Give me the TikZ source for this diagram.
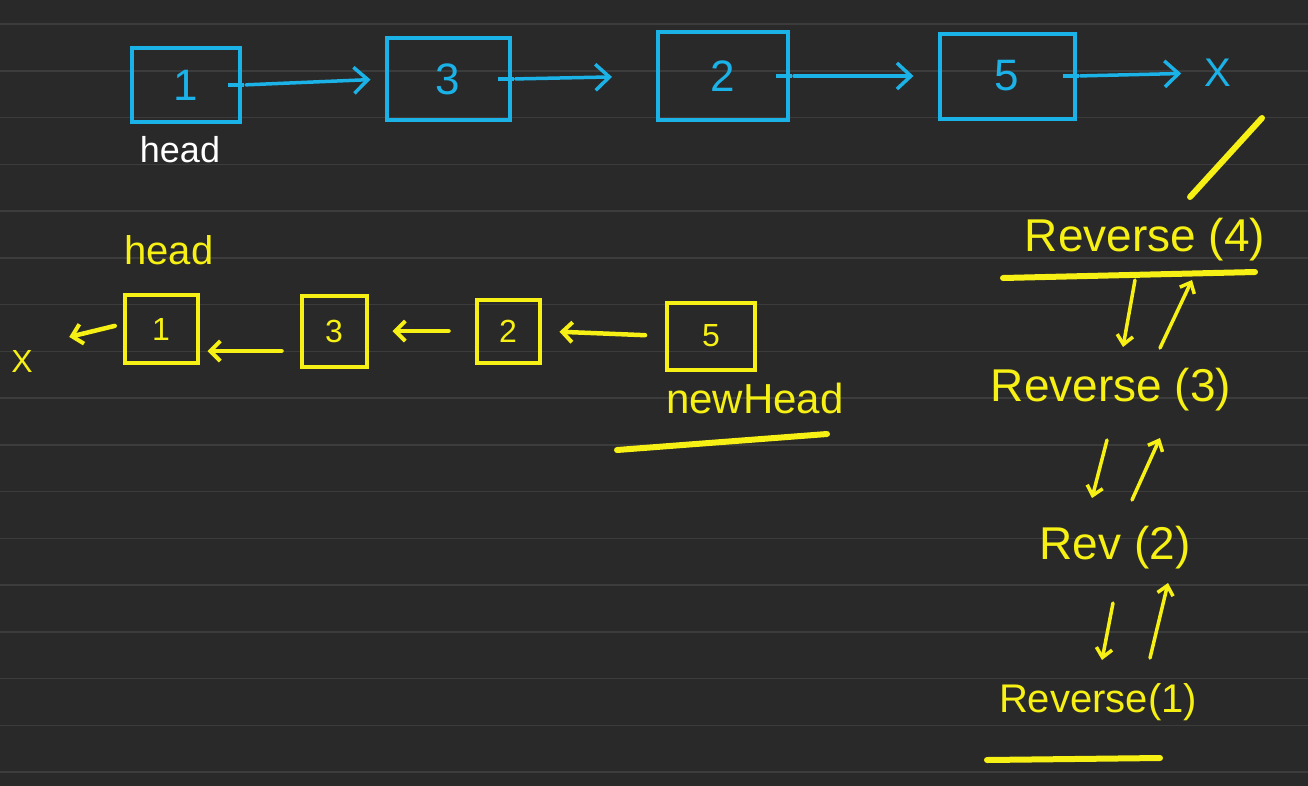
\documentclass[tikz,border=0pt]{standalone}
\usepackage{fontspec}
\setmainfont{Liberation Sans}
\usetikzlibrary{positioning,arrows.meta}

\definecolor{board}{RGB}{41,41,41}
\definecolor{rule}{RGB}{60,60,60}
\definecolor{inkblue}{RGB}{27,178,232}
\definecolor{inkyellow}{RGB}{246,240,20}

\tikzset{
  cell/.style={draw=inkblue,line width=4pt,text=inkblue,inner sep=0pt,
    font=\fontsize{44}{50}\selectfont},
  rcell/.style={draw=inkyellow,line width=4pt,text=inkyellow,inner sep=0pt,
    font=\fontsize{32}{36}\selectfont},
  link/.style={draw=inkblue,line width=3.5pt,line cap=round,
    -{Straight Barb[length=14pt,width=26pt,line width=3.5pt]}},
  rlink/.style={draw=inkyellow,line width=4.5pt,line cap=round,
    -{Straight Barb[length=10pt,width=20pt,line width=4pt]}},
  call/.style={draw=inkyellow,line width=3.5pt,line cap=round,
    -{Straight Barb[length=9pt,width=16pt,line width=3.5pt]}},
  underline/.style={draw=inkyellow,line width=6pt,line cap=round},
  word/.style={text=inkyellow,font=\fontsize{44}{50}\selectfont}
}

\begin{document}
\begin{tikzpicture}[x=1pt,y=-1pt]
\useasboundingbox (0,0) rectangle (1308,785);
\fill[board] (-6,-6) rectangle (1314,791);
\foreach \k in {0,...,16}
  \draw[rule,line width=1.5pt] (-6,24+46.75*\k) -- (1314,24+46.75*\k);

% list before reversing
\node[cell,minimum width=108pt,minimum height=74pt] (c1) at (186,85) {1};
\node[cell,minimum width=123pt,minimum height=82pt] (c3) at (448,79) {3};
\node[cell,minimum width=130pt,minimum height=88pt] (c2) at (723,76) {2};
\node[cell,minimum width=135pt,minimum height=85pt] (c5) at (1007,76) {5};
\node[text=inkblue,font=\fontsize{40}{44}\selectfont] (nil) at (1218,73) {X};
\node[text=white,font=\fontsize{36}{40}\selectfont] (head) at (180,150) {head};

\foreach \n in {c1,c3,c2,c5}
  \draw[inkblue,line width=3.5pt] ([xshift=-14pt]\n.east) -- ([xshift=2pt]\n.east);

\draw[link,shorten <=4pt,shorten >=14pt] (c1.east) -- (c3.west);
\draw[link,shorten <=4pt,shorten >=44pt] (c3.east) -- (c2.west);
\draw[link,shorten <=4pt,shorten >=24pt] (c2.east) -- (c5.west);
\draw[link,shorten <=4pt,shorten >=20pt] (c5.east) -- (nil.west);

% list after reversing
\node[word,font=\fontsize{40}{44}\selectfont] (newhead) at (169,250) {head};
\node[text=inkyellow,font=\fontsize{32}{36}\selectfont] (nilB) at (22,361) {X};
\node[rcell,minimum width=73pt,minimum height=68pt] (b1) at (161,329) {1};
\node[rcell,minimum width=65pt,minimum height=71pt] (b3) at (334,331) {3};
\node[rcell,minimum width=63pt,minimum height=63pt] (b2) at (508,331) {2};
\node[rcell,minimum width=88pt,minimum height=67pt] (b5) at (711,336) {5};
\node[word,font=\fontsize{42}{46}\selectfont] (nh) at (755,398) {newHead};

\draw[rlink,shorten <=8pt,shorten >=34pt] ([yshift=5pt]b1.west) -- ([yshift=16pt]nilB.east);
\draw[rlink,shorten <=18pt,shorten >=8pt] ([yshift=-20pt]b3.west) -- ([yshift=-22pt]b1.east);
\draw[rlink,shorten <=26pt,shorten >=24pt] (b2.west) -- (b3.east);
\draw[rlink,shorten <=20pt,shorten >=18pt] (b5.west) -- (b2.east);
\draw[underline] ([shift={(-138,52)}]nh.center) -- ([shift={(72,36)}]nh.center);

% recursion calls
\node[word,font=\fontsize{46}{50}\selectfont] (r4) at (1145,240) {Reverse (4)};
\node[word,font=\fontsize{46}{50}\selectfont] (r3) at (1111,390) {Reverse (3)};
\node[word,font=\fontsize{46}{50}\selectfont] (r2) at (1115,548) {Rev (2)};
\node[word,font=\fontsize{40}{44}\selectfont] (r1) at (1098,702) {Reverse(1)};

\draw[underline] ([shift={(-142,38)}]r4.center) -- ([shift={(110,32)}]r4.center);
\draw[underline] ([shift={(-111,58)}]r1.center) -- ([shift={(62,56)}]r1.center);
\draw[underline] ([shift={(45,-43)}]r4.center) -- ([shift={(44,45)}]nil.center);

\draw[call] ([shift={(-10,40)}]r4.center) -- ([shift={(12,-43)}]r3.center);
\draw[call] ([shift={(49,-42)}]r3.center) -- ([shift={(47,40)}]r4.center);
\draw[call] ([shift={(-4,50)}]r3.center) -- ([shift={(-23,-50)}]r2.center);
\draw[call] ([shift={(17,-48)}]r2.center) -- ([shift={(49,48)}]r3.center);
\draw[call] ([shift={(-2,55)}]r2.center) -- ([shift={(4,-42)}]r1.center);
\draw[call] ([shift={(52,-44)}]r1.center) -- ([shift={(53,35)}]r2.center);
\end{tikzpicture}
\end{document}
